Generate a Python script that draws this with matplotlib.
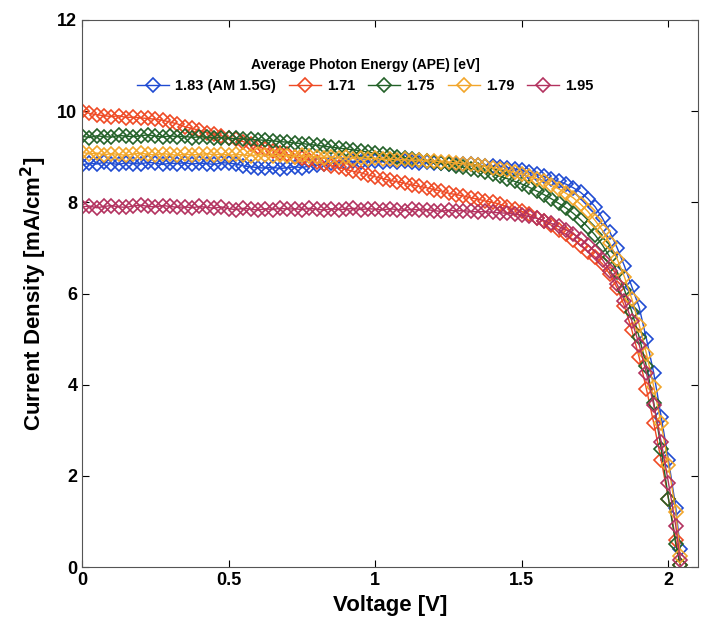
import matplotlib
matplotlib.use('Agg')
import matplotlib.pyplot as plt

plt.rcParams['font.family'] = ['Liberation Sans', 'DejaVu Sans']
plt.rcParams['font.weight'] = 'bold'

# measured voltage points [V]
voltage = [0.0, 0.025, 0.05, 0.075, 0.1, 0.125, 0.15, 0.175, 0.2, 0.225,
           0.25, 0.275, 0.3, 0.325, 0.35, 0.375, 0.4, 0.425, 0.45, 0.475,
           0.5, 0.525, 0.55, 0.575, 0.6, 0.625, 0.65, 0.675, 0.7, 0.725,
           0.75, 0.775, 0.8, 0.825, 0.85, 0.875, 0.9, 0.925, 0.95, 0.975,
           1.0, 1.025, 1.05, 1.075, 1.1, 1.125, 1.15, 1.175, 1.2, 1.225,
           1.25, 1.275, 1.3, 1.325, 1.35, 1.375, 1.4, 1.425, 1.45, 1.475,
           1.5, 1.525, 1.55, 1.575, 1.6, 1.625, 1.65, 1.675, 1.7, 1.725,
           1.75, 1.775, 1.8, 1.825, 1.85, 1.875, 1.9, 1.925, 1.95, 1.975,
           2.0, 2.025, 2.04]

# current density [mA/cm2] for each APE
j_183 = [8.82, 8.86, 8.84, 8.88, 8.85, 8.83, 8.87, 8.85, 8.84, 8.88,
         8.86, 8.83, 8.86, 8.85, 8.87, 8.84, 8.86, 8.85, 8.83, 8.87,
         8.86, 8.84, 8.80, 8.78, 8.76, 8.75, 8.77, 8.74, 8.76, 8.78,
         8.76, 8.80, 8.82, 8.85, 8.86, 8.88, 8.87, 8.90, 8.88, 8.90,
         8.91, 8.89, 8.90, 8.88, 8.90, 8.89, 8.87, 8.88, 8.86, 8.87,
         8.85, 8.84, 8.85, 8.83, 8.82, 8.80, 8.80, 8.78, 8.76, 8.73,
         8.70, 8.66, 8.62, 8.57, 8.52, 8.46, 8.40, 8.32, 8.22, 8.08,
         7.90, 7.65, 7.35, 7.00, 6.60, 6.15, 5.70, 5.00, 4.25, 3.30,
         2.35, 1.30, 0.40]
j_171 = [10.00, 9.95, 9.92, 9.90, 9.88, 9.90, 9.86, 9.87, 9.85, 9.84,
         9.82, 9.80, 9.76, 9.72, 9.66, 9.62, 9.58, 9.53, 9.50, 9.46,
         9.42, 9.38, 9.33, 9.28, 9.22, 9.17, 9.13, 9.08, 9.05, 9.00,
         8.97, 8.93, 8.88, 8.85, 8.80, 8.77, 8.72, 8.68, 8.65, 8.60,
         8.56, 8.52, 8.48, 8.45, 8.42, 8.38, 8.35, 8.32, 8.28, 8.25,
         8.20, 8.17, 8.14, 8.10, 8.07, 8.03, 8.00, 7.96, 7.90, 7.85,
         7.80, 7.74, 7.66, 7.58, 7.50, 7.40, 7.30, 7.18, 7.05, 6.92,
         6.80, 6.65, 6.42, 6.12, 5.72, 5.20, 4.60, 3.90, 3.15, 2.35,
         1.50, 0.60, 0.05]
j_175 = [9.45, 9.42, 9.46, 9.44, 9.43, 9.47, 9.45, 9.44, 9.46, 9.48,
         9.45, 9.43, 9.46, 9.44, 9.45, 9.42, 9.44, 9.43, 9.41, 9.42,
         9.40, 9.40, 9.39, 9.38, 9.37, 9.36, 9.35, 9.33, 9.32, 9.30,
         9.29, 9.27, 9.25, 9.23, 9.21, 9.19, 9.17, 9.15, 9.13, 9.10,
         9.08, 9.06, 9.03, 9.00, 8.98, 8.96, 8.93, 8.91, 8.88, 8.86,
         8.83, 8.80, 8.77, 8.74, 8.70, 8.66, 8.62, 8.57, 8.52, 8.46,
         8.40, 8.33, 8.25, 8.17, 8.08, 7.98, 7.88, 7.76, 7.62, 7.46,
         7.28, 7.06, 6.80, 6.48, 6.08, 5.60, 5.05, 4.40, 3.60, 2.60,
         1.50, 0.50, 0.05]
j_179 = [9.10, 9.06, 9.08, 9.04, 9.07, 9.05, 9.03, 9.06, 9.08, 9.05,
         9.04, 9.07, 9.05, 9.03, 9.06, 9.04, 9.05, 9.07, 9.04, 9.06,
         9.03, 9.05, 9.04, 9.02, 9.05, 9.03, 9.01, 9.04, 9.02, 9.00,
         9.03, 9.01, 9.00, 8.98, 9.00, 8.97, 8.99, 8.96, 8.98, 8.95,
         8.97, 8.94, 8.95, 8.93, 8.94, 8.92, 8.93, 8.90, 8.91, 8.89,
         8.88, 8.86, 8.85, 8.83, 8.81, 8.79, 8.76, 8.73, 8.70, 8.66,
         8.62, 8.57, 8.52, 8.46, 8.38, 8.30, 8.20, 8.10, 7.96, 7.80,
         7.60, 7.38, 7.10, 6.76, 6.36, 5.88, 5.32, 4.68, 3.95, 3.15,
         2.25, 1.20, 0.25]
j_195 = [7.90, 7.92, 7.88, 7.91, 7.93, 7.90, 7.89, 7.92, 7.94, 7.91,
         7.90, 7.93, 7.91, 7.89, 7.90, 7.88, 7.91, 7.89, 7.87, 7.90,
         7.86, 7.84, 7.87, 7.85, 7.83, 7.86, 7.84, 7.87, 7.85, 7.86,
         7.84, 7.87, 7.85, 7.83, 7.86, 7.84, 7.85, 7.87, 7.84, 7.86,
         7.85, 7.83, 7.86, 7.84, 7.82, 7.85, 7.83, 7.84, 7.82, 7.80,
         7.83, 7.81, 7.82, 7.80, 7.79, 7.80, 7.78, 7.77, 7.76, 7.74,
         7.72, 7.69, 7.65, 7.60, 7.54, 7.47, 7.40, 7.31, 7.20, 7.07,
         6.92, 6.74, 6.50, 6.20, 5.84, 5.40, 4.88, 4.25, 3.55, 2.75,
         1.85, 0.90, 0.15]

series = [j_183, j_171, j_175, j_179, j_195]
labels = ['1.83 (AM 1.5G)', '1.71', '1.75', '1.79', '1.95']
colors = ['#1f4bd2', '#ef4a24', '#236128', '#f2a62a', '#b3325f']

fig = plt.figure(figsize=(7.02, 6.43), dpi=100)
ax = fig.add_axes([0.117, 0.118, 0.877, 0.851])

for j, lab, c in zip(series, labels, colors):
    ax.plot(voltage, j, color=c, lw=1.0, marker='D', markersize=7,
            markerfacecolor='none', markeredgecolor=c, markeredgewidth=1.2,
            label=lab)

ax.set_xlim(0, 2.1)
ax.set_ylim(0, 12)
ax.set_xticks([0, 0.5, 1, 1.5, 2])
ax.set_xticklabels(['0', '0.5', '1', '1.5', '2'])
ax.set_yticks([0, 2, 4, 6, 8, 10, 12])
ax.tick_params(direction='in', top=True, right=True, labelsize=13, length=5)
for lbl in ax.get_xticklabels() + ax.get_yticklabels():
    lbl.set_fontweight('bold')
for s in ax.spines.values():
    s.set_color('#555555')

ax.set_xlabel('Voltage [V]', fontsize=16, fontweight='bold', labelpad=4)
ax.set_ylabel('Current Density [mA/cm$^\\mathbf{2}$]', fontsize=16,
              fontweight='bold', labelpad=6)

leg = ax.legend(loc='upper center', bbox_to_anchor=(0.46, 0.955), ncol=5,
                frameon=False, fontsize=10.5, handlelength=2.2,
                handletextpad=0.4, columnspacing=0.9,
                title='Average Photon Energy (APE) [eV]',
                title_fontproperties={'weight': 'bold', 'size': 10})

fig.savefig('out.png', dpi=100)
